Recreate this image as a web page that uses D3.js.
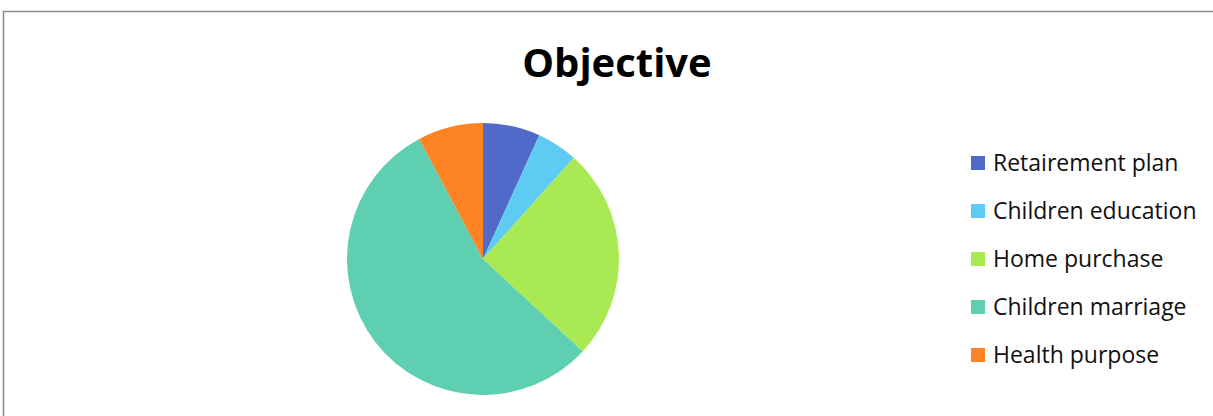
<!DOCTYPE html>
<html>
<head>
<meta charset="utf-8">
<script src="https://cdn.jsdelivr.net/npm/d3@7"></script>
<style>
  body { margin: 0; background: #fff; }
  svg { display: block; }
</style>
</head>
<body>
<div id="container"></div>
<script>
// survey answers
let categories = ["Retairement plan", "Children education", "Home purchase", "Children marriage", "Health purpose"];
let counts = [7, 5, 26, 57, 8];
let colours = ["#4F6AC8", "#5ECBF2", "#A9EA54", "#5ECFB1", "#FD8324"];
let title = "Objective";

let w = 1213;
let h = 416;
let cx = 483;
let cy = 259;
let radius = 136;

let viz = d3.select("#container")
  .append("svg")
    .attr("width", w)
    .attr("height", h)
;

// chart area frame (runs off the right and bottom edge)
viz.append("rect")
    .attr("x", 3.5)
    .attr("y", 11.5)
    .attr("width", w + 10)
    .attr("height", h + 10)
    .attr("fill", "white")
    .attr("stroke", "#8c8c8c")
    .attr("stroke-width", 1.5)
;

viz.append("text")
    .attr("x", 617)
    .attr("y", 77)
    .attr("text-anchor", "middle")
    .style("font-family", "'Open Sans', sans-serif")
    .style("font-weight", "bold")
    .style("font-size", "40px")
    .text(title)
;

let data = categories.map(function(c, i){
  return { name: c, value: counts[i] };
});

let colourScale = d3.scaleOrdinal().domain(categories).range(colours);

let pieMaker = d3.pie()
    .sort(null)
    .value(function(d){ return d.value; })
;
let arcMaker = d3.arc().innerRadius(0).outerRadius(radius);

viz.append("g")
    .attr("transform", "translate(" + cx + "," + cy + ")")
  .selectAll("path")
  .data(pieMaker(data))
  .enter()
  .append("path")
    .attr("d", arcMaker)
    .attr("fill", function(d){ return colourScale(d.data.name); })
;

// legend
let legendY = d3.scalePoint().domain(categories).range([163, 355]);

let legend = viz.append("g")
  .selectAll("g")
  .data(categories)
  .enter()
  .append("g")
    .attr("transform", function(d){ return "translate(971," + legendY(d) + ")"; })
;
legend.append("rect")
    .attr("x", 0)
    .attr("y", -7)
    .attr("width", 14)
    .attr("height", 14)
    .attr("fill", function(d){ return colourScale(d); })
;
legend.append("text")
    .attr("x", 22)
    .attr("y", 0)
    .attr("dy", "0.35em")
    .style("font-family", "'Open Sans', sans-serif")
    .style("font-size", "23px")
    .attr("fill", "#111")
    .text(function(d){ return d; })
;
</script>
</body>
</html>
